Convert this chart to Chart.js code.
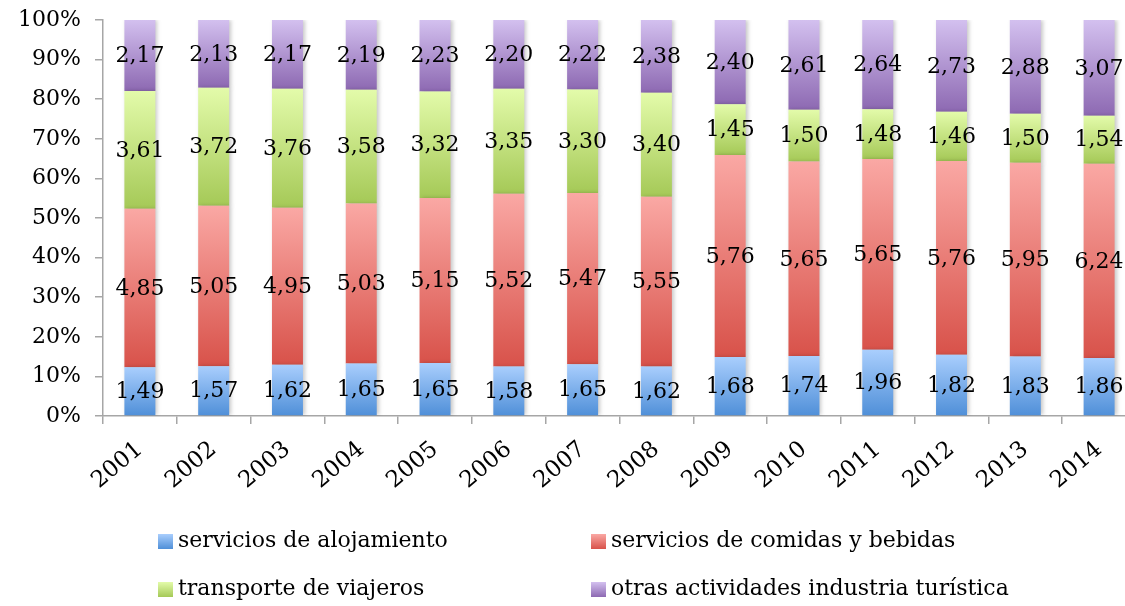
<!DOCTYPE html>
<html>
<head>
<meta charset="utf-8">
<script src="https://cdn.jsdelivr.net/npm/chart.js@4/dist/chart.umd.min.js"></script>
<style>
  html, body { margin: 0; padding: 0; background: #fff; overflow: hidden; }
  #wrap { position: relative; width: 1140px; height: 606px; }
  .legend { position: absolute; font-family: "DejaVu Serif", serif; font-size: 22px; color: #000; white-space: nowrap; }
  .legend span.box { position: absolute; left: -20px; top: 7px; width: 15px; height: 15px; }
</style>
</head>
<body>
<div id="wrap">
  <canvas id="chart" width="1140" height="606"></canvas>
</div>
<script>
// Years on the x axis
const years = ['2001','2002','2003','2004','2005','2006','2007','2008','2009','2010','2011','2012','2013','2014'];

// Values per category (printed on the bars)
const alojamiento = [1.49, 1.57, 1.62, 1.65, 1.65, 1.58, 1.65, 1.62, 1.68, 1.74, 1.96, 1.82, 1.83, 1.86];
const comidas     = [4.85, 5.05, 4.95, 5.03, 5.15, 5.52, 5.47, 5.55, 5.76, 5.65, 5.65, 5.76, 5.95, 6.24];
const transporte  = [3.61, 3.72, 3.76, 3.58, 3.32, 3.35, 3.30, 3.40, 1.45, 1.50, 1.48, 1.46, 1.50, 1.54];
const otras       = [2.17, 2.13, 2.17, 2.19, 2.23, 2.20, 2.22, 2.38, 2.40, 2.61, 2.64, 2.73, 2.88, 3.07];

const seriesNames = ['servicios de alojamiento', 'servicios de comidas y bebidas', 'transporte de viajeros', 'otras actividades industria turística'];
const seriesValues = [alojamiento, comidas, transporte, otras];

// Gradient colours, light at top, dark at bottom
const colors = [
    ['#a9cefd', '#4f8fd8'], // blue
    ['#faa8a4', '#d8524a'], // red
    ['#e3fbaa', '#a5c957'], // green
    ['#d3c0ef', '#8d69b2']  // purple
];

const FONT = '"DejaVu Serif", serif';

// Share of each value in the yearly total, in percent
const totals = years.map((_, i) => seriesValues.reduce((s, arr) => s + arr[i], 0));
const shares = seriesValues.map(arr => arr.map((v, i) => v / totals[i] * 100));

function gradientFill(ctx) {
    const c = colors[ctx.datasetIndex];
    if (ctx.type !== 'data') return c[0];
    const chart = ctx.chart;
    const y = chart.scales.y;
    if (!y) return c[0];
    let base = 0;
    for (let d = 0; d < ctx.datasetIndex; d++) base += shares[d][ctx.dataIndex];
    const top = base + shares[ctx.datasetIndex][ctx.dataIndex];
    const y0 = y.getPixelForValue(top);
    const y1 = y.getPixelForValue(base);
    if (!isFinite(y0) || !isFinite(y1)) return c[0];
    const g = chart.ctx.createLinearGradient(0, y0, 0, y1);
    g.addColorStop(0, c[0]);
    g.addColorStop(1, c[1]);
    return g;
}

// Soft shadow on the right side of the bars
const barShadow = {
    id: 'barShadow',
    beforeDatasetDraw(chart) {
        const ctx = chart.ctx;
        ctx.save();
        ctx.shadowColor = 'rgba(0,0,0,0.22)';
        ctx.shadowBlur = 4;
        ctx.shadowOffsetX = 2;
        ctx.shadowOffsetY = 0;
    },
    afterDatasetDraw(chart) {
        chart.ctx.restore();
    }
};

// Draw the raw values in the middle of every segment
const valueLabels = {
    id: 'valueLabels',
    afterDatasetsDraw(chart) {
        const ctx = chart.ctx;
        ctx.save();
        ctx.font = '22px ' + FONT;
        ctx.fillStyle = '#000';
        ctx.textAlign = 'center';
        ctx.textBaseline = 'middle';
        chart.data.datasets.forEach((ds, d) => {
            const meta = chart.getDatasetMeta(d);
            meta.data.forEach((bar, i) => {
                const txt = seriesValues[d][i].toFixed(2).replace('.', ',');
                ctx.fillText(txt, bar.x, (bar.y + bar.base) / 2 + 1);
            });
        });
        ctx.restore();
    }
};

new Chart(document.getElementById('chart'), {
    type: 'bar',
    data: {
        labels: years,
        datasets: seriesNames.map((name, d) => ({
            label: name,
            data: shares[d],
            backgroundColor: gradientFill,
            borderWidth: 0,
            categoryPercentage: 0.84,
            barPercentage: 0.5
        }))
    },
    options: {
        responsive: false,
        animation: false,
        layout: { padding: { top: 20, right: 4, left: 0, bottom: 0 } },
        plugins: {
            legend: { display: false },
            tooltip: { enabled: false }
        },
        scales: {
            x: {
                stacked: true,
                grid: { display: true, drawOnChartArea: false, offset: true, tickLength: 8, color: '#a6a6a6', lineWidth: 1.5 },
                border: { display: true, color: '#a6a6a6', width: 1.5 },
                ticks: { color: '#000', font: { family: FONT, size: 23 }, minRotation: 40, maxRotation: 40, padding: 12 },
                afterFit(scale) { scale.height = 190; scale.paddingLeft = 0; scale.paddingRight = 0; }
            },
            y: {
                stacked: true,
                min: 0,
                max: 100,
                grid: { display: true, drawOnChartArea: false, tickLength: 8, color: '#a6a6a6', lineWidth: 1.5 },
                border: { display: true, color: '#a6a6a6', width: 1.5 },
                ticks: {
                    stepSize: 10,
                    color: '#000',
                    font: { family: FONT, size: 22 },
                    padding: 14,
                    callback: v => v + '%'
                },
                afterFit(scale) { scale.width = 103; scale.paddingTop = 0; scale.paddingBottom = 0; }
            }
        }
    },
    plugins: [barShadow, valueLabels]
});

// Legend in two columns below the chart
const legendPos = [[178, 527], [611, 527], [178, 575], [611, 575]];
seriesNames.forEach((name, d) => {
    const el = document.createElement('div');
    el.className = 'legend';
    el.style.left = legendPos[d][0] + 'px';
    el.style.top = legendPos[d][1] + 'px';
    const box = document.createElement('span');
    box.className = 'box';
    box.style.background = 'linear-gradient(' + colors[d][0] + ',' + colors[d][1] + ')';
    el.appendChild(box);
    el.appendChild(document.createTextNode(name));
    document.getElementById('wrap').appendChild(el);
});
</script>
</body>
</html>
